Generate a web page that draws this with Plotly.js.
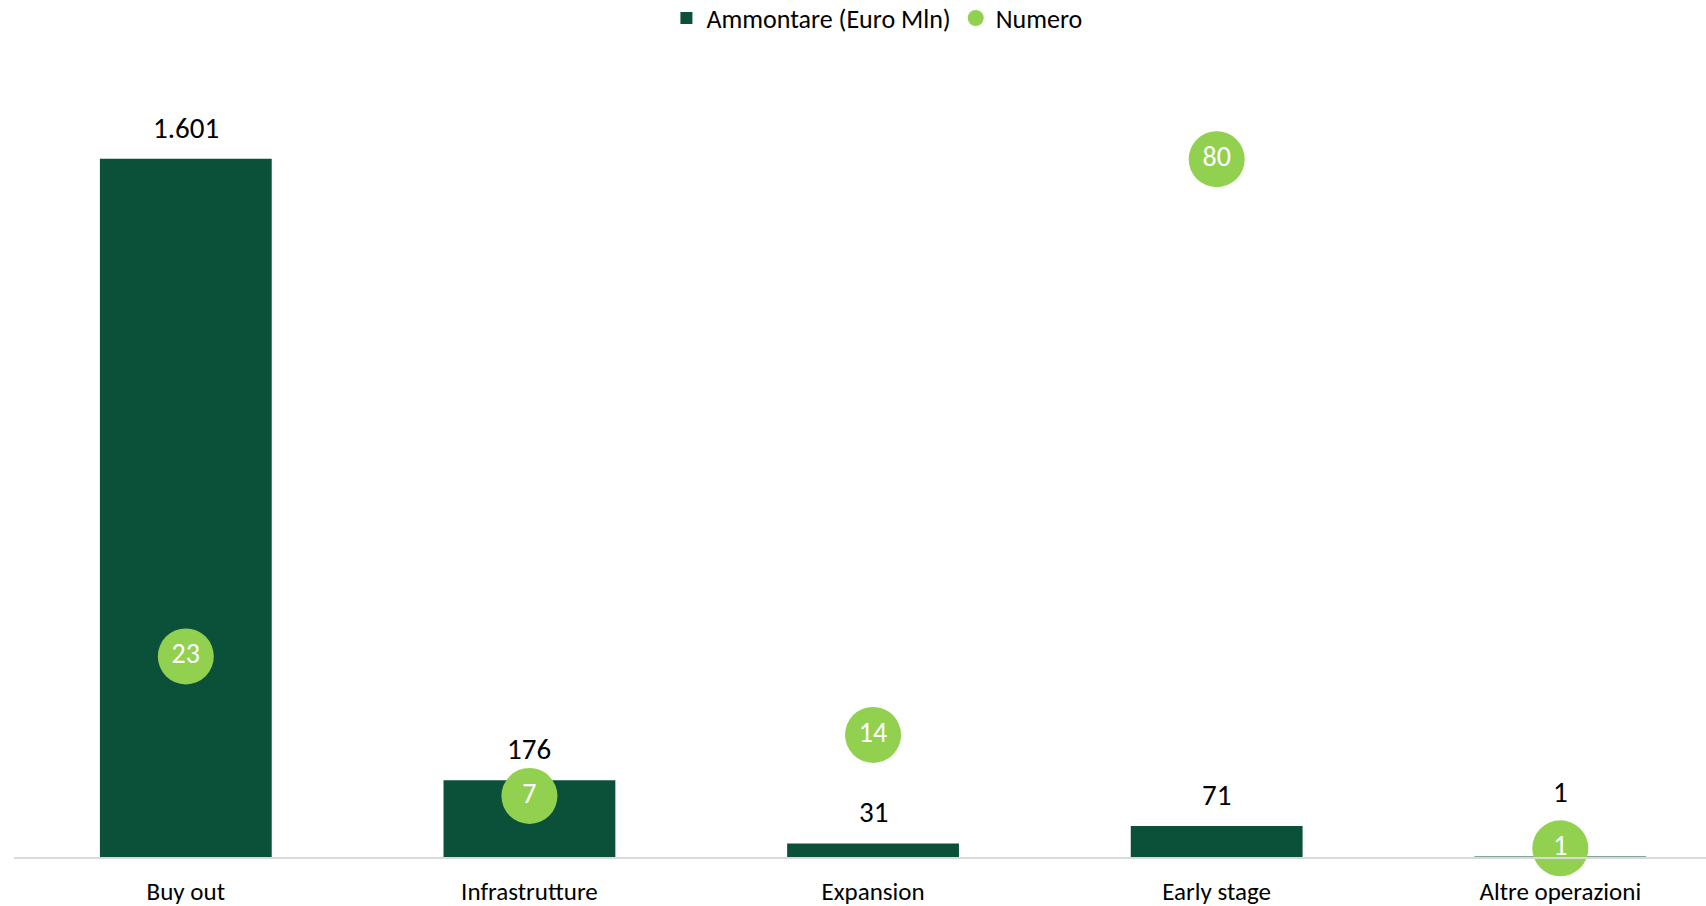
<!DOCTYPE html>
<html>
<head>
<meta charset="utf-8">
<script src="https://cdn.plot.ly/plotly-3.0.1.min.js"></script>
<style>html,body{margin:0;padding:0;background:#fff;}#chart{width:1706px;height:906px;}</style>
</head>
<body>
<div id="chart"></div>
<script>
const categories = ["Buy out", "Infrastrutture", "Expansion", "Early stage", "Altre operazioni"];
const ammontare = [1601, 176, 31, 71, 1];
const numero = [23, 7, 14, 80, 1];
const seriesNames = ["Ammontare (Euro Mln)", "Numero"];

function fmtIt(v) {
  return String(v).replace(/\B(?=(\d{3})+(?!\d))/g, ".");
}

const FONT = "Carlito, Lato, 'Liberation Sans', sans-serif";

const barTrace = {
  type: "bar",
  name: seriesNames[0],
  x: categories,
  y: ammontare,
  width: 0.5,
  marker: {color: "#0B5139"},
  hoverinfo: "x+y"
};

const dotTrace = {
  type: "scatter",
  mode: "markers+text",
  name: seriesNames[1],
  x: categories,
  y: numero,
  yaxis: "y2",
  marker: {color: "#92D050", size: 56},
  text: numero.map(v => String(v)),
  textposition: "middle center",
  textfont: {color: "#ffffff", size: 28, family: FONT},
  cliponaxis: false
};

const annotations = categories.map((c, i) => ({
  x: c,
  y: ammontare[i],
  xref: "x",
  yref: "y",
  text: fmtIt(ammontare[i]),
  showarrow: false,
  yanchor: "bottom",
  yshift: (i === categories.length - 1) ? 45 : 11,
  font: {size: 29, color: "#000000", family: FONT}
}));

const layout = {
  width: 1706,
  height: 906,
  margin: {l: 14, r: 0, t: 72, b: 49, autoexpand: false},
  paper_bgcolor: "#ffffff",
  plot_bgcolor: "#ffffff",
  font: {family: FONT, color: "#000000"},
  showlegend: true,
  legend: {
    orientation: "h",
    x: 0.51,
    xanchor: "center",
    yref: "container",
    y: 0.98,
    yanchor: "middle",
    font: {size: 26, color: "#000000", family: FONT},
    itemwidth: 30
  },
  xaxis: {
    type: "category",
    range: [-0.5, 4.424],
    showline: true,
    linecolor: "#d9d9d9",
    linewidth: 2,
    showgrid: false,
    zeroline: false,
    ticks: "",
    ticklabelstandoff: 11,
    tickfont: {size: 25, color: "#000000", family: FONT}
  },
  yaxis: {
    range: [0, 1800],
    showgrid: false,
    zeroline: false,
    showticklabels: false,
    ticks: "",
    showline: false
  },
  yaxis2: {
    range: [0, 90],
    overlaying: "y",
    side: "right",
    showgrid: false,
    zeroline: false,
    showticklabels: false,
    ticks: "",
    showline: false
  },
  annotations: annotations
};

Plotly.newPlot("chart", [barTrace, dotTrace], layout, {displayModeBar: false, staticPlot: true});
</script>
</body>
</html>
